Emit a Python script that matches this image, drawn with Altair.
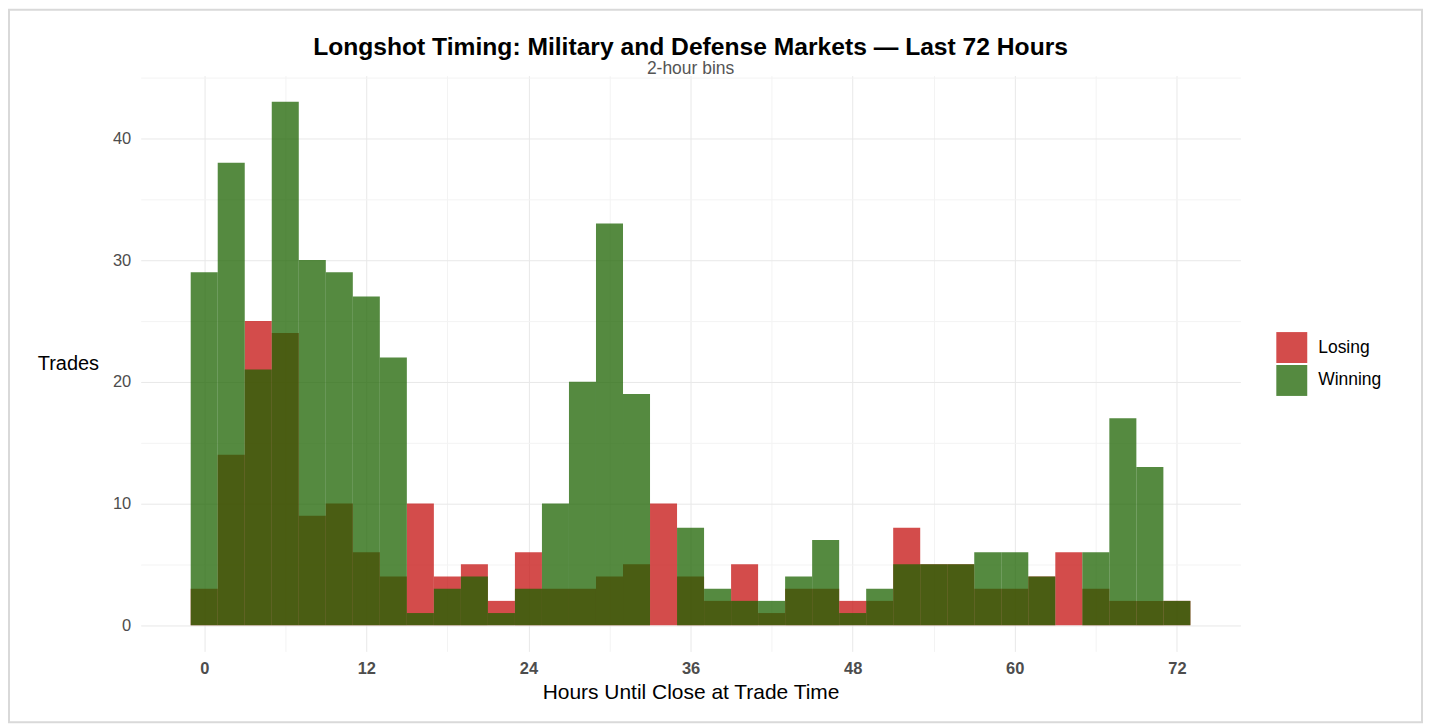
import altair as alt
import pandas as pd

# ---- data ----
bin_centers = [0, 2, 4, 6, 8, 10, 12, 14, 16, 18, 20, 22, 24, 26, 28, 30, 32, 34, 36,
               38, 40, 42, 44, 46, 48, 50, 52, 54, 56, 58, 60, 62, 64, 66, 68, 70, 72]
losing = [3, 14, 25, 24, 9, 10, 6, 4, 10, 4, 5, 2, 6, 3, 3, 4, 5, 10, 4,
          2, 5, 1, 3, 3, 2, 2, 8, 5, 5, 3, 3, 4, 6, 3, 2, 2, 2]
winning = [29, 38, 21, 43, 30, 29, 27, 22, 1, 3, 4, 1, 3, 10, 20, 33, 19, 0, 8,
           3, 2, 2, 4, 7, 1, 3, 5, 5, 5, 6, 6, 4, 0, 6, 17, 13, 2]
outcomes = ["Losing", "Winning"]
colors = ["#c4100f", "#1c6300"]
bin_width = 2
x_ticks = [0, 6, 12, 18, 24, 30, 36, 42, 48, 54, 60, 66, 72]
y_ticks = [0, 5, 10, 15, 20, 25, 30, 35, 40, 45]

rows = []
for name, series in zip(outcomes, [losing, winning]):
    for c, v in zip(bin_centers, series):
        rows.append({"outcome": name, "start": c - bin_width / 2,
                     "end": c + bin_width / 2, "count": v, "base": 0})
df = pd.DataFrame(rows)

FONT = "Liberation Sans"

bars = alt.Chart(df).mark_rect(opacity=0.75).encode(
    x=alt.X("start:Q",
            scale=alt.Scale(domain=[-4.7, 76.7], nice=False, zero=False),
            axis=alt.Axis(values=x_ticks,
                          labelExpr="datum.value % 12 == 0 ? datum.label : ''",
                          title="Hours Until Close at Trade Time",
                          gridColor={"condition": {"test": "datum.value % 12 == 0", "value": "#e8e8e8"},
                                     "value": "#f3f3f3"},
                          labelFontWeight="bold", labelFontSize=16.5, labelColor="#4d4d4d",
                          labelPadding=9, titleFontSize=21, titleColor="#000000",
                          titleFontWeight="normal", titlePadding=5)),
    x2="end:Q",
    y=alt.Y("count:Q",
            scale=alt.Scale(domain=[-2.15, 45.15], nice=False, zero=False),
            axis=alt.Axis(values=y_ticks,
                          labelExpr="datum.value % 10 == 0 ? datum.label : ''",
                          title="Trades",
                          gridColor={"condition": {"test": "datum.value % 10 == 0", "value": "#e8e8e8"},
                                     "value": "#f3f3f3"},
                          labelFontSize=16.5, labelColor="#4d4d4d", labelPadding=10,
                          titleAngle=0, titleFontSize=20, titleColor="#000000",
                          titleFontWeight="normal", titleX=-73, titleY=289,
                          titleAlign="center", titleBaseline="middle")),
    y2="base:Q",
    color=alt.Color("outcome:N",
                    scale=alt.Scale(domain=outcomes, range=colors),
                    legend=alt.Legend(title=None, orient="none", legendX=1138, legendY=257,
                                      symbolType="square", symbolSize=961, symbolStrokeWidth=0,
                                      symbolOpacity=0.75, labelFontSize=17.5, labelColor="#000000",
                                      rowPadding=2, labelOffset=11, padding=0)),
)

frame = alt.Chart(pd.DataFrame({"k": [0]})).mark_rect(
    fillOpacity=0, stroke="#d9d9d9", strokeWidth=2, clip=False
).encode(x=alt.value(-132), x2=alt.value(1284), y=alt.value(-66), y2=alt.value(648))

chart = alt.layer(frame, bars).properties(
    width=1102, height=577,
    autosize=alt.AutoSizeParams(type="none"),
    padding={"left": 133, "top": 67, "right": 183, "bottom": 72},
    title=alt.TitleParams(
        text="Longshot Timing: Military and Defense Markets \u2014 Last 72 Hours",
        subtitle="2-hour bins", anchor="middle", font=FONT, fontSize=24.7, fontWeight="bold",
        color="#000000", subtitleFont=FONT, subtitleFontSize=17.5, subtitleColor="#555555",
        offset=-69, subtitlePadding=0),
).configure(font=FONT).configure_view(stroke=None).configure_axis(
    domain=False, ticks=False, labelFont=FONT, titleFont=FONT, gridWidth=1
).configure_legend(labelFont=FONT)

chart.save("out.html", embed_options={"renderer": "svg", "actions": False})
